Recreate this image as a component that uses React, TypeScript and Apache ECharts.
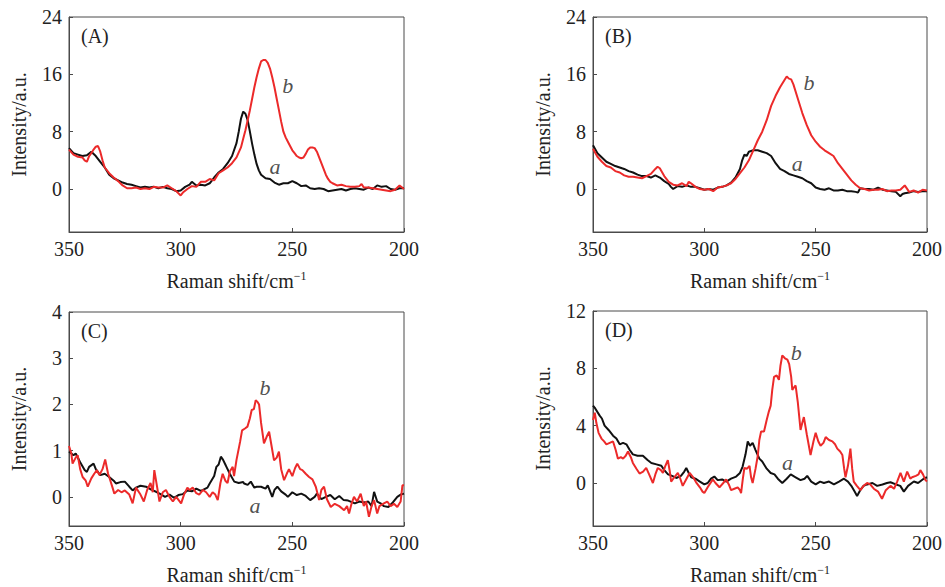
import React, { useEffect, useRef } from "react";
import * as echarts from "echarts";

type P = [number, number];

// ---------- data (Raman shift cm^-1, intensity a.u.) ----------
const panelLabels = ["(A)", "(B)", "(C)", "(D)"];
const xTicks = [350, 300, 250, 200];
const yMins = [-6, -6, -0.63, -3];
const yMaxs = [24, 24, 4, 12];
const yTicksA = [0, 8, 16, 24];
const yTicksB = [0, 8, 16, 24];
const yTicksC = [0, 1, 2, 3, 4];
const yTicksD = [0, 4, 8, 12];

const aA: P[] = [[350,5.7],[348,5.0],[346,4.8],[344,4.6],[342,4.7],[340,5.2],[338,4.6],[336,3.8],[334,3.0],[332,2.0],[330,1.5],[328,1.2],[326,0.9],[324,0.7],[322,0.6],[320,0.4],[318,0.2],[316,0.3],[314,0.2],[312,0.3],[310,0.1],[308,0.3],[306,0.1],[304,0.0],[302,-0.3],[300,-0.2],[298,0.3],[296,0.6],[295,1.0],[293,0.5],[291,0.6],[289,0.5],[287,0.8],[285,1.6],[283,2.3],[281,2.8],[279,3.6],[277,4.6],[275,6.4],[274,8.0],[273,9.8],[272,10.8],[271,10.5],[270,9.6],[269,8.0],[268,6.3],[267,4.8],[266,3.5],[265,2.6],[264,2.0],[262,1.5],[260,1.4],[258,0.9],[256,0.6],[254,0.8],[252,0.8],[250,1.1],[248,0.8],[246,0.4],[244,0.5],[242,0.1],[240,0.0],[238,0.1],[236,0.0],[234,-0.3],[232,-0.2],[230,-0.1],[228,0.0],[226,-0.2],[224,0.0],[222,0.1],[220,0.0],[218,-0.1],[216,0.2],[214,0.0],[212,0.5],[210,0.3],[208,0.4],[206,0.0],[204,-0.1],[202,0.1],[200,0.1]];
const bA: P[] = [[350,5.5],[348,4.8],[346,4.5],[344,4.4],[343,4.0],[342,3.8],[341,4.6],[340,5.0],[339,5.5],[338,5.9],[337,6.0],[336,5.2],[335,4.0],[334,3.0],[332,2.2],[330,1.6],[328,1.1],[326,0.5],[324,0.1],[322,0.1],[320,0.2],[318,0.0],[316,0.1],[314,0.0],[312,0.3],[310,0.2],[308,0.2],[306,0.5],[304,0.1],[302,-0.3],[300,-0.9],[299,-0.5],[297,0.0],[295,0.4],[293,0.3],[291,1.0],[289,1.0],[287,1.4],[285,1.2],[283,2.2],[281,2.6],[279,3.0],[277,3.6],[275,4.4],[273,5.8],[272,7.0],[271,8.2],[270,9.6],[269,11.0],[268,12.6],[267,14.2],[266,15.6],[265,16.8],[264,17.8],[263,18.0],[262,18.0],[261,17.6],[260,16.8],[259,15.6],[258,14.2],[257,12.6],[256,11.0],[255,9.4],[254,8.0],[253,7.2],[252,6.6],[251,6.0],[250,5.4],[249,5.0],[248,4.6],[247,4.4],[246,4.3],[245,4.4],[244,4.9],[243,5.5],[242,5.8],[241,5.8],[240,5.7],[239,5.2],[238,4.4],[237,3.6],[236,2.8],[235,2.0],[234,1.4],[233,1.0],[232,0.8],[230,0.5],[228,0.6],[226,0.4],[224,0.3],[222,0.3],[220,0.4],[219,0.7],[218,0.2],[216,0.2],[214,0.1],[212,0.0],[210,-0.1],[208,-0.2],[206,-0.3],[204,-0.1],[202,0.5],[200,0.0]];

const aB: P[] = [[350,6.1],[348,5.0],[346,4.4],[344,3.8],[342,3.5],[340,3.2],[338,3.0],[336,2.8],[334,2.5],[332,2.3],[330,2.0],[328,1.8],[326,1.8],[324,1.6],[322,1.9],[320,1.6],[318,1.1],[316,0.7],[315,0.3],[314,0.0],[312,0.4],[310,0.3],[308,0.5],[306,0.3],[304,0.3],[302,0.1],[300,-0.1],[298,0.0],[296,-0.1],[294,0.2],[292,0.3],[290,0.5],[288,0.9],[286,1.6],[284,2.8],[283,4.0],[282,4.8],[281,4.6],[280,5.2],[278,5.4],[276,5.4],[274,5.2],[272,5.0],[270,4.6],[268,3.6],[266,2.8],[264,2.5],[262,2.1],[260,1.9],[258,1.7],[256,1.5],[254,1.1],[252,0.8],[250,0.2],[248,0.0],[246,-0.1],[244,0.1],[242,-0.2],[240,-0.2],[238,-0.1],[236,-0.3],[234,-0.3],[232,-0.4],[231,-0.5],[230,0.1],[228,0.0],[226,0.0],[224,-0.1],[222,0.2],[220,-0.1],[218,-0.2],[216,-0.3],[214,-0.4],[212,-1.0],[211,-0.7],[210,-0.6],[208,-0.5],[206,-0.3],[204,-0.4],[202,-0.3],[200,-0.3]];
const bB: P[] = [[350,5.6],[348,4.5],[346,3.8],[344,3.2],[342,3.0],[340,2.5],[338,2.3],[336,1.9],[334,1.7],[332,1.7],[330,1.6],[328,1.5],[326,1.8],[324,2.1],[322,2.8],[321,3.1],[320,2.9],[318,1.8],[316,1.0],[314,0.6],[312,0.5],[310,0.8],[308,0.4],[307,1.0],[306,0.8],[304,0.3],[302,0.0],[300,-0.1],[298,0.0],[296,-0.3],[294,0.2],[292,0.3],[290,0.5],[288,0.8],[286,1.4],[284,2.2],[282,3.0],[280,4.0],[278,5.4],[276,6.8],[274,8.0],[272,9.6],[270,11.6],[268,13.0],[266,14.2],[264,15.2],[263,15.7],[262,15.4],[261,15.3],[260,14.6],[258,12.6],[256,10.6],[254,8.9],[252,7.5],[250,6.6],[248,5.9],[246,5.4],[244,5.0],[242,4.6],[240,3.6],[238,2.8],[236,2.0],[234,1.2],[232,0.6],[230,0.1],[228,0.0],[226,-0.2],[224,-0.1],[222,-0.1],[220,0.0],[218,-0.3],[216,-0.2],[214,-0.2],[212,-0.1],[210,0.5],[208,-0.4],[206,-0.2],[204,-0.5],[202,-0.1],[200,-0.2]];

const aC: P[] = [[350,0.98],[348,0.9],[347,0.94],[345,0.75],[343,0.58],[342,0.54],[341,0.65],[339,0.72],[338,0.6],[336,0.47],[334,0.5],[332,0.43],[330,0.35],[329,0.29],[327,0.32],[325,0.33],[323,0.22],[321.5,0.14],[320,0.2],[318,0.24],[315.5,0.22],[313,0.15],[311,0.11],[309,0.06],[307,0.0],[305,0.05],[303,-0.02],[301,0.04],[299,0.06],[297,0.14],[295,0.12],[293,0.18],[291,0.13],[290,0.15],[288,0.2],[287,0.29],[285,0.45],[284,0.65],[283,0.7],[282,0.87],[281,0.8],[280,0.7],[279.5,0.65],[278,0.5],[276,0.33],[274,0.3],[272,0.32],[271.6,0.29],[270,0.26],[268.6,0.33],[267,0.2],[266,0.22],[264,0.22],[262,0.18],[261,0.25],[259,0.0],[258,0.15],[256.7,0.22],[255,0.12],[253,0.05],[252,0.0],[250,0.1],[248,0.04],[246,0.07],[244,0.02],[242,-0.07],[240,0.0],[239,0.07],[237,-0.05],[235,0.0],[233,0.04],[231,-0.05],[229,0.02],[227,-0.07],[225,-0.08],[222,-0.14],[220,-0.1],[218,-0.12],[216,-0.1],[214.5,-0.2],[213.4,0.11],[212,-0.1],[210.5,-0.14],[209,-0.2],[207,-0.22],[205,-0.12],[203,0.0],[201.5,0.05],[200,0.07]];
const bC: P[] = [[350,1.1],[349,0.95],[348.4,0.72],[347,0.85],[346.1,0.9],[345,0.6],[343.9,0.43],[342.5,0.35],[341.6,0.22],[340,0.4],[338.7,0.5],[337.5,0.58],[336.4,0.47],[335,0.6],[333.8,0.81],[332.5,0.5],[332,0.43],[330.5,0.2],[329.7,0.07],[328,0.15],[326.5,0.1],[325,0.14],[323,0.05],[321.5,-0.14],[320,0.2],[318,0.05],[316.5,-0.1],[315,0.15],[313.5,0.3],[312.5,0.1],[311.8,0.58],[310.5,0.2],[309.5,-0.1],[308,0.1],[306.6,0.15],[305,0.0],[303.5,-0.1],[302,0.0],[299.8,-0.14],[298.5,0.05],[297,0.2],[296,0.15],[294.6,0.2],[293,0.08],[291.7,0.05],[290,0.15],[288.6,0.1],[287,0.0],[285.7,0.1],[284.5,0.05],[283.4,-0.07],[282.2,0.3],[281.2,0.5],[280,0.35],[279,0.3],[278,0.55],[276.7,0.65],[276.1,0.45],[275,0.8],[273.4,1.19],[272.5,1.44],[271.2,1.48],[270.1,1.52],[269,1.7],[268.2,1.88],[267.2,1.9],[266.4,2.09],[265.5,2.05],[264.9,2.0],[264,1.6],[262.7,1.16],[261.5,1.3],[260.4,1.41],[259.3,1.1],[258.2,0.79],[257,0.85],[256,0.98],[255,0.6],[253.7,0.36],[252.5,0.5],[251.5,0.6],[250,0.45],[248.8,0.62],[247.8,0.72],[246.5,0.6],[245.5,0.58],[244,0.5],[242.5,0.43],[241,0.38],[239.5,0.22],[238,-0.07],[237,0.15],[235.8,0.22],[234.5,-0.05],[232.8,-0.22],[231,-0.15],[229,-0.2],[226.8,-0.29],[225.5,-0.2],[224.6,-0.36],[223.5,-0.15],[222.4,0.0],[221,-0.1],[219.4,0.07],[218,-0.2],[217,-0.1],[215.7,-0.43],[214.5,-0.2],[213.4,-0.07],[212,-0.36],[211,-0.2],[209,-0.14],[207.5,-0.1],[206,-0.2],[204.5,-0.15],[203,-0.22],[201.5,-0.1],[200.7,0.25],[200,0.25]];

const aD: P[] = [[350,5.4],[349,5.2],[347,4.7],[346,4.5],[344.8,4.0],[343,3.7],[341,3.3],[339.5,3.1],[338,2.7],[336.5,2.8],[335,2.7],[333.5,2.3],[332.1,2.0],[330,1.9],[327.6,1.9],[325.5,1.6],[323.8,1.4],[321.5,1.3],[319.3,1.2],[318,0.9],[316.3,0.6],[314.5,0.5],[312.6,0.35],[310.5,0.5],[309,0.8],[308.1,1.05],[307,0.7],[305.9,0.4],[304,0.3],[302,0.1],[300,-0.1],[298.5,0.0],[297,0.3],[295.5,0.45],[294,0.2],[292,0.25],[290.1,0.1],[288,0.3],[285.7,0.45],[284,0.7],[282.8,1.15],[281.5,2.0],[280.5,2.9],[279.5,2.6],[278.3,2.8],[277,2.3],[275.3,1.7],[274,1.5],[272,1.0],[270.2,0.7],[268.5,0.6],[267,0.3],[265,0.0],[263,0.3],[261.2,0.6],[259,0.4],[256.8,0.2],[255,0.3],[253.8,0.5],[252,0.1],[250,-0.1],[248,0.1],[246.3,0.0],[244,0.1],[241.8,-0.1],[239.5,0.1],[237.3,0.3],[235.5,0.1],[234,-0.2],[232.5,-0.6],[231.4,-0.9],[230,-0.5],[228.5,-0.2],[226.9,-0.1],[224.5,0.0],[222.4,-0.2],[220,-0.1],[218,0.0],[216.4,0.05],[214,-0.1],[212,-0.2],[210.4,-0.6],[208.5,-0.2],[205.9,0.1],[204,0.0],[201.5,0.3],[200,0.4]];
const bD: P[] = [[350,4.4],[349.2,4.9],[348.5,4.2],[347.5,3.5],[346.2,3.1],[345,2.9],[344,2.7],[342.5,2.8],[341,2.9],[339.8,2.3],[338.8,1.7],[337.5,1.8],[336.5,1.7],[335.3,1.9],[334.3,2.2],[333,1.8],[332.1,1.4],[330.5,1.0],[329.1,0.66],[327.5,0.8],[326.1,1.05],[324.5,0.5],[323.1,0.0],[322,0.6],[320.9,1.05],[319.5,0.9],[318.6,0.7],[317.5,1.2],[316.4,1.6],[315.5,0.8],[314.9,0.1],[313.5,0.4],[311.9,0.7],[310.8,0.3],[309.7,-0.2],[308,0.3],[306.6,0.7],[305,0.4],[303.7,0.05],[302,-0.3],[300.8,-0.6],[300,-0.7],[298.5,-0.3],[296.2,0.25],[295,0.0],[293.2,-0.3],[291.5,0.0],[290.2,0.25],[289,-0.1],[288,-0.5],[286.5,-0.4],[285,-0.3],[284,-0.5],[283.5,-0.7],[282.7,0.3],[282,1.05],[280.8,1.0],[279.7,1.2],[279,0.4],[278.3,0.0],[277,1.0],[276,1.9],[275.3,3.0],[274.5,3.6],[273.2,3.6],[272,4.4],[271,5.0],[270.2,5.4],[269.5,6.5],[268.7,7.4],[267.5,7.5],[266.5,7.2],[265.8,8.2],[265,8.9],[263.8,8.7],[262.7,8.6],[261.9,8.3],[261,7.4],[260.5,6.5],[259.6,6.7],[259,6.8],[258,5.6],[256.8,3.7],[256,4.2],[255.3,4.6],[254,3.4],[252.3,1.95],[251,2.9],[250,3.5],[248.8,2.9],[247.8,2.6],[246.5,2.8],[245.5,3.2],[244,3.0],[242.5,2.9],[241.3,2.7],[240.3,2.4],[239,2.2],[238,1.95],[237.2,1.0],[236.6,0.4],[235.5,1.2],[234.4,2.4],[233.6,1.0],[232.9,0.1],[231.5,-0.2],[229.9,-0.5],[228.5,-0.2],[226.9,0.0],[225.5,-0.1],[223.9,-0.4],[222,-0.6],[220.2,-1.1],[218.5,-0.5],[216.4,-0.2],[214.8,-0.4],[213.4,0.1],[211.9,0.7],[210.4,0.1],[208.9,0.8],[207.5,0.3],[206.7,0.4],[205,0.5],[203.8,0.6],[203,0.9],[201.8,0.6],[200.7,0.2],[200,0.1]];

// curve annotation positions (data coords): [a, b] per panel
const noteA: P[] = [[257.8, 3.1], [252, 14.5]];
const noteB: P[] = [[258.3, 3.6], [253, 14.9]];
const noteC: P[] = [[266.7, -0.18], [262.2, 2.37]];
const noteD: P[] = [[262.7, 1.45], [258.7, 9.1]];
const noteNames = ["a", "b"];

const grids = [
  { left: 69, top: 17, width: 335, height: 215 },
  { left: 593, top: 17, width: 335, height: 215 },
  { left: 69, top: 312, width: 335, height: 214 },
  { left: 593, top: 311, width: 335, height: 215 },
];

const SERIF = "'Liberation Serif', 'Times New Roman', 'DejaVu Serif', serif";
const FRAME = "#4a4a4a";
const RED = "#ec2a2a";
const BLACK = "#111111";

export default function App() {
  const ref = useRef<HTMLDivElement>(null);
  useEffect(() => {
    document.body.style.margin = "0";
    if (!ref.current) return;
    const chart = echarts.init(ref.current, undefined, { renderer: "svg" });
    const blackSets = [aA, aB, aC, aD];
    const redSets = [bA, bB, bC, bD];
    const notes = [noteA, noteB, noteC, noteD];
    const yTicks = [yTicksA, yTicksB, yTicksC, yTicksD];

    const option: any = {
      animation: false,
      backgroundColor: "#ffffff",
      title: grids.map((g, i) => ({
        text: panelLabels[i],
        left: g.left + 12,
        top: g.top + 9,
        padding: 0,
        textStyle: { fontFamily: SERIF, fontSize: 20, fontWeight: "normal", color: "#222" },
      })),
      grid: grids.map((g) => ({
        ...g,
        show: true,
        borderColor: FRAME,
        borderWidth: 1,
        backgroundColor: "transparent",
        containLabel: false,
      })),
      xAxis: grids.map((_, i) => ({
        type: "value",
        gridIndex: i,
        inverse: true,
        min: 200,
        max: 350,
        interval: 50,
        name: "{m|Raman shift/cm}{s|\u22121}",
        nameLocation: "middle",
        nameGap: 38,
        nameTextStyle: {
          rich: {
            m: { fontFamily: SERIF, fontSize: 20, color: "#222", lineHeight: 22 },
            s: { fontFamily: SERIF, fontSize: 12, color: "#222", verticalAlign: "top", lineHeight: 22 },
          },
        },
        axisLine: { show: true, onZero: false, lineStyle: { color: FRAME, width: 1 } },
        axisTick: { show: true, inside: true, length: 4, lineStyle: { color: FRAME } },
        axisLabel: {
          margin: 7,
          fontFamily: SERIF,
          fontSize: 20,
          color: "#222",
          customValues: xTicks,
        },
        splitLine: { show: false },
      })),
      yAxis: grids.map((_, i) => ({
        type: "value",
        gridIndex: i,
        min: yMins[i],
        max: yMaxs[i],
        name: "Intensity/a.u.",
        nameLocation: "middle",
        nameGap: 40,
        nameTextStyle: { fontFamily: SERIF, fontSize: 20, color: "#222" },
        axisLine: { show: true, onZero: false, lineStyle: { color: FRAME, width: 1 } },
        axisTick: { show: true, inside: true, length: 4, lineStyle: { color: FRAME }, customValues: yTicks[i] },
        axisLabel: {
          margin: 7,
          fontFamily: SERIF,
          fontSize: 20,
          color: "#222",
          customValues: yTicks[i],
        },
        splitLine: { show: false },
      })),
      series: [
        ...blackSets.map((d, i) => ({
          type: "line",
          xAxisIndex: i,
          yAxisIndex: i,
          data: d,
          showSymbol: false,
          symbol: "none",
          lineStyle: { color: BLACK, width: 2 },
          z: 3,
        })),
        ...redSets.map((d, i) => ({
          type: "line",
          xAxisIndex: i,
          yAxisIndex: i,
          data: d,
          showSymbol: false,
          symbol: "none",
          lineStyle: { color: RED, width: 2 },
          z: 4,
        })),
        ...notes.map((n, i) => ({
          type: "scatter",
          xAxisIndex: i,
          yAxisIndex: i,
          symbolSize: 0,
          itemStyle: { color: "rgba(0,0,0,0)" },
          data: n.map((p, k) => ({ value: p, name: noteNames[k] })),
          label: {
            show: true,
            position: "inside",
            formatter: (p: any) => p.name,
            fontFamily: SERIF,
            fontStyle: "italic",
            fontSize: 22,
            color: "#222",
          },
          z: 5,
        })),
      ],
    };
    chart.setOption(option);
    return () => chart.dispose();
  }, []);
  return <div ref={ref} style={{ width: 945, height: 587 }} />;
}
